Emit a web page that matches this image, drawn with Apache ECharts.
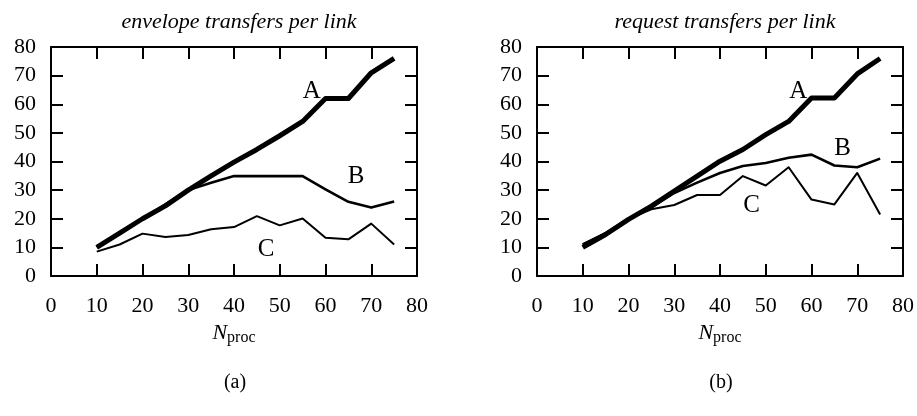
<!DOCTYPE html>
<html>
<head>
<meta charset="utf-8">
<script src="https://cdn.jsdelivr.net/npm/echarts@6/dist/echarts.min.js"></script>
<style>
html,body{margin:0;padding:0;background:#fff;}
#c{width:917px;height:416px;}
</style>
</head>
<body>
<div id="c"></div>
<script>
// ---- data ----
const nproc = [10, 15, 20, 25, 30, 35, 40, 45, 50, 55, 60, 65, 70, 75];

// (a) envelope transfers per link
const envA = [10, 15, 20, 24.5, 30, 35, 39.8, 44.2, 49, 54, 62, 62, 71, 76];
const envB = [10, 15, 20, 25, 30, 32.6, 34.9, 34.9, 34.9, 34.9, 30.3, 25.9, 23.9, 26];
const envC = [8.5, 11, 14.8, 13.6, 14.3, 16.3, 17.1, 20.9, 17.7, 20.1, 13.4, 12.8, 18.3, 11];

// (b) request transfers per link
const reqA = [10, 14.5, 19.8, 24.4, 29.7, 34.9, 40.1, 44.2, 49.4, 54, 62.2, 62.2, 70.6, 76];
const reqB = [11, 15, 20, 24, 29, 32.6, 36, 38.4, 39.5, 41.3, 42.4, 38.6, 38, 41];
const reqC = [11, 15, 20, 23.3, 24.8, 28.3, 28.3, 34.9, 31.6, 38, 26.7, 25, 36, 21.5];

const panelTitles = ['envelope transfers per link', 'request transfers per link'];
const panelTags = ['(a)', '(b)'];
const curveNames = ['A', 'B', 'C'];
// label anchor points in data coordinates [x, y]
const labelsA = [[57, 64.4], [66.7, 34.7], [47, 9.3]];
const labelsB = [[57.1, 64.4], [66.8, 44.6], [46.9, 24.6]];
const xTicks = { min: 0, max: 80, interval: 10 };
const yTicks = { min: 0, max: 80, interval: 10 };

// ---- chart ----
const FONT = '"Liberation Serif", "DejaVu Serif", serif';
const gridLefts = [51, 537];
const gridW = 366, gridTop = 47, gridH = 229;

function pair(arrX, arrY) { return arrX.map((x, i) => [x, arrY[i]]); }

const grids = gridLefts.map(l => ({ left: l, top: gridTop, width: gridW, height: gridH, containLabel: false }));

function axisCommon(t) {
  return {
    type: 'value', min: t.min, max: t.max, interval: t.interval,
    axisLine: { show: true, onZero: false, lineStyle: { color: '#000', width: 2 } },
    axisTick: { show: true, inside: true, length: 12, lineStyle: { color: '#000', width: 2 } },
    splitLine: { show: false },
  };
}

const xAxes = [], yAxes = [];
[0, 1].forEach(g => {
  xAxes.push(Object.assign(axisCommon(xTicks), {
    gridIndex: g, position: 'bottom',
    axisLabel: { show: true, margin: 19, color: '#000', fontFamily: FONT, fontSize: 22 },
    name: '{n|N}{s|proc}', nameLocation: 'middle', nameGap: 45,
    nameTextStyle: {
      color: '#000', fontFamily: FONT,
      rich: {
        n: { fontFamily: FONT, fontStyle: 'italic', fontSize: 22, color: '#000' },
        s: { fontFamily: FONT, fontSize: 16, color: '#000', padding: [9, 0, 0, 0] }
      }
    }
  }));
  xAxes.push(Object.assign(axisCommon(xTicks), {
    gridIndex: g, position: 'top', axisLabel: { show: false }
  }));
  yAxes.push(Object.assign(axisCommon(yTicks), {
    gridIndex: g, position: 'left',
    axisLabel: { show: true, margin: 15, color: '#000', fontFamily: FONT, fontSize: 22 }
  }));
  yAxes.push(Object.assign(axisCommon(yTicks), {
    gridIndex: g, position: 'right', axisLabel: { show: false }
  }));
});

const widths = [5, 2.6, 2];
const panels = [[envA, envB, envC], [reqA, reqB, reqC]];
const labelSets = [labelsA, labelsB];
const series = [];
panels.forEach((set, p) => {
  set.forEach((vals, k) => {
    series.push({
      type: 'line', name: curveNames[k] + p,
      xAxisIndex: p * 2, yAxisIndex: p * 2,
      data: pair(nproc, vals), showSymbol: false, symbol: 'none',
      lineStyle: { color: '#000', width: widths[k], join: 'round' },
      z: 5 - k, silent: true, animation: false
    });
  });
  series.push({
    type: 'scatter', xAxisIndex: p * 2, yAxisIndex: p * 2,
    symbolSize: 0, silent: true, animation: false,
    itemStyle: { color: '#000', opacity: 1 },
    data: labelSets[p].map((pt, k) => ({ value: pt, name: curveNames[k] })),
    label: {
      show: true, position: 'inside', formatter: '{b}', color: '#000',
      fontFamily: FONT, fontSize: 25, textBorderWidth: 0
    },
    labelLayout: { hideOverlap: false }
  });
});

const titles = [];
[0, 1].forEach(g => {
  titles.push({
    text: panelTitles[g], left: gridLefts[g] + gridW / 2, top: 6, textAlign: 'center',
    textStyle: { fontFamily: FONT, fontStyle: 'italic', fontWeight: 'normal', fontSize: 22, color: '#000' }
  });
  titles.push({
    text: panelTags[g], left: gridLefts[g] + gridW / 2 - 4, top: 368, textAlign: 'center',
    textStyle: { fontFamily: FONT, fontWeight: 'normal', fontSize: 20, color: '#000' }
  });
});

const chart = echarts.init(document.getElementById('c'), null, { renderer: 'canvas' });
chart.setOption({
  animation: false,
  backgroundColor: '#fff',
  title: titles,
  grid: grids,
  xAxis: xAxes,
  yAxis: yAxes,
  series: series
});
</script>
</body>
</html>
